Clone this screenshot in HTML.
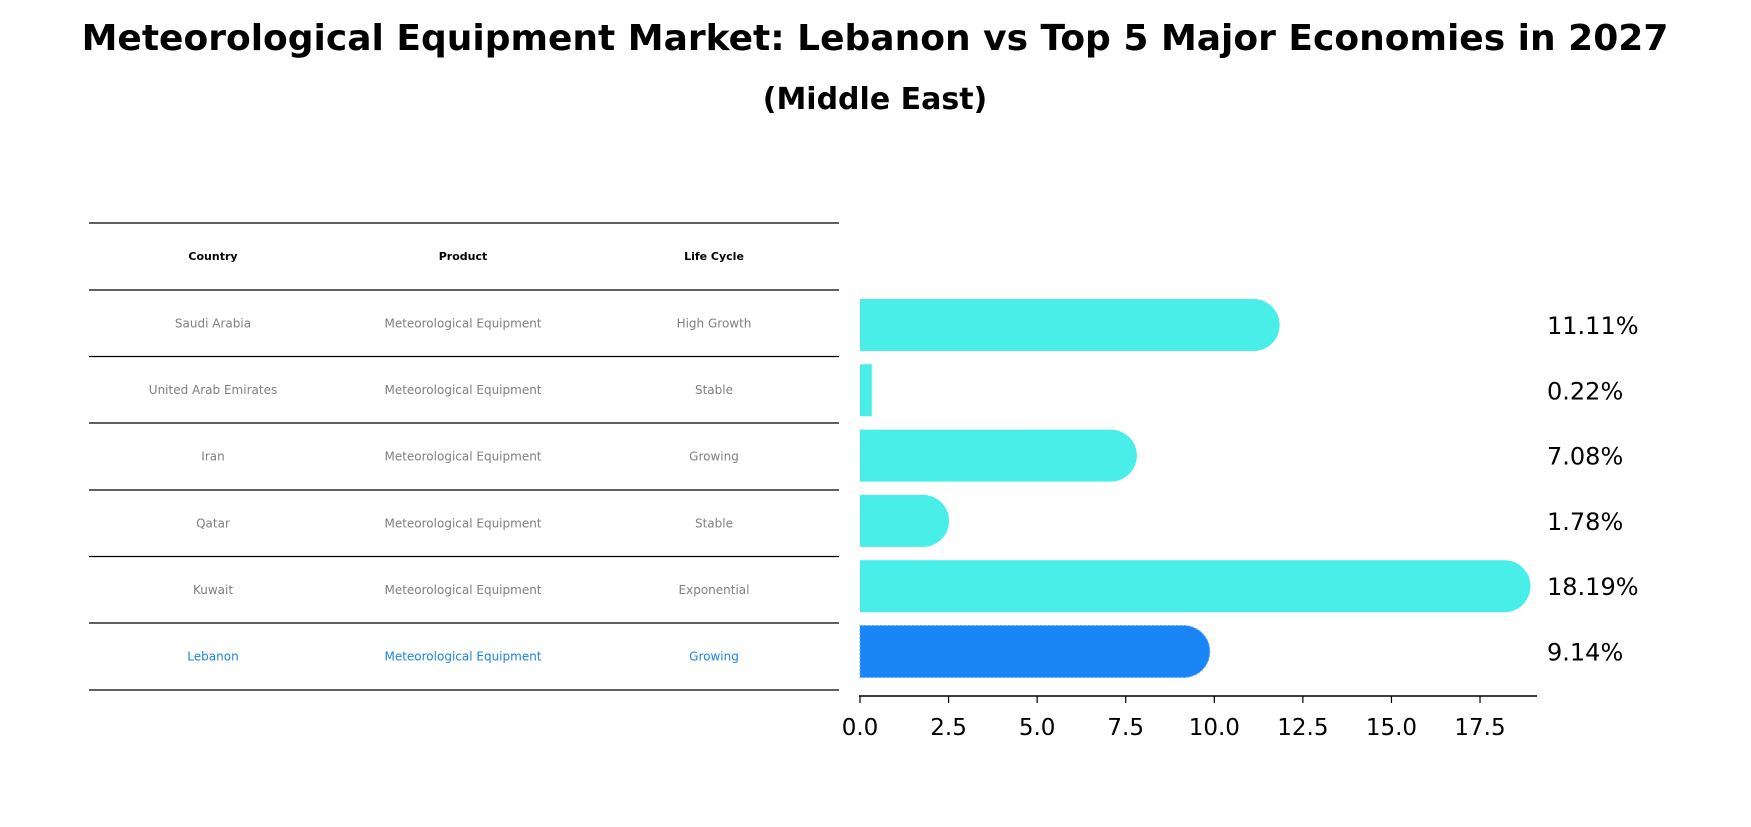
<!DOCTYPE html>
<html><head><meta charset="utf-8"><style>
body{margin:0;background:#fff;font-family:"DejaVu Sans","Liberation Sans",sans-serif}
</style></head><body>
<svg width="1751" height="823" xmlns="http://www.w3.org/2000/svg" font-family="DejaVu Sans, Liberation Sans, sans-serif">
<text x="875" y="50" text-anchor="middle" font-size="36" font-weight="bold">Meteorological Equipment Market: Lebanon vs Top 5 Major Economies in 2027</text>
<text x="875" y="109" text-anchor="middle" font-size="30" font-weight="bold">(Middle East)</text>
<g id="table"></g>
<g id="bars"></g>
</svg>
<script>
const countries=["Saudi Arabia","United Arab Emirates","Iran","Qatar","Kuwait","Lebanon"];
const products=["Meteorological Equipment","Meteorological Equipment","Meteorological Equipment","Meteorological Equipment","Meteorological Equipment","Meteorological Equipment"];
const lifeCycles=["High Growth","Stable","Growing","Stable","Exponential","Growing"];
const values=[11.11,0.22,7.08,1.78,18.19,9.14];
const ticks=[0,2.5,5,7.5,10,12.5,15,17.5];
const NS="http://www.w3.org/2000/svg";
function mk(tag,attrs,parent){const e=document.createElementNS(NS,tag);for(const k in attrs)e.setAttribute(k,attrs[k]);parent.appendChild(e);return e;}
const x=v=>860+v*35.43;
const yc=i=>325+i*65.3;
const bh=52;
const tbl=document.getElementById('table');
const lineYs=[223,290,356.5,423,490,556.5,623,690];
lineYs.forEach((ly,i)=>{const l=mk('line',{x1:89,x2:839,y1:ly,y2:ly,stroke:'#000','stroke-width':1.2},tbl);

});
const colX=[213,463,714];
["Country","Product","Life Cycle"].forEach((h,j)=>{const t=mk('text',{x:colX[j],y:260,'text-anchor':'middle','font-size':11,'font-weight':'bold'},tbl);t.textContent=h;

});
countries.forEach((c,i)=>{const cy=(lineYs[i+1]+lineYs[i+2])/2+4;const col=c==="Lebanon"?'#1a85e8':'#808080';
[c,products[i],lifeCycles[i]].forEach((s,j)=>{const t=mk('text',{x:colX[j],y:cy,'text-anchor':'middle','font-size':12,fill:col},tbl);t.textContent=s;

});});
const g=document.getElementById('bars');
values.forEach((v,i)=>{const leb=countries[i]==="Lebanon";const col=leb?'#1a85f5':'#4aeee9';
const x0=x(0),x1=x(v),t=yc(i)-bh/2,r=bh/2;let d;
if(v<1){d=`M${x0},${t}H${x1+4}V${t+bh}H${x0}Z`;}else{d=`M${x0},${t}H${x1}A${r},${r} 0 0 1 ${x1},${t+bh}H${x0}Z`;}
const p=mk('path',{d:d,fill:col},g);
if(leb){p.setAttribute('stroke','#5aa8ff');p.setAttribute('stroke-dasharray','2,2');p.setAttribute('stroke-width','1');}


const lb=mk('text',{x:1547,y:yc(i)+9,'font-size':24},g);lb.textContent=v.toFixed(2)+'%';

});
const ax=mk('line',{x1:859,x2:1537,y1:696,y2:696,stroke:'#000','stroke-width':1.5},g);


ticks.forEach(tv=>{const tk=mk('line',{x1:x(tv),x2:x(tv),y1:696,y2:703,stroke:'#000','stroke-width':1.2},g);


const tl=mk('text',{x:x(tv),y:735,'text-anchor':'middle','font-size':23},g);tl.textContent=tv.toFixed(1);

});
</script>
</body></html>
